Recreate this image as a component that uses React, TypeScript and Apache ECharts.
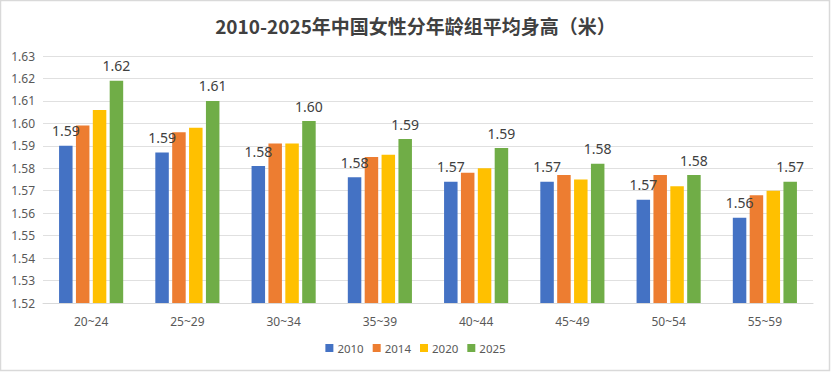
import React, { useEffect, useRef } from "react";
import * as echarts from "echarts";

const categories = ["20~24", "25~29", "30~34", "35~39", "40~44", "45~49", "50~54", "55~59"];
const years = ["2010", "2014", "2020", "2025"];
const s2010 = [1.590, 1.587, 1.581, 1.576, 1.574, 1.574, 1.566, 1.558];
const s2014 = [1.599, 1.596, 1.591, 1.585, 1.578, 1.577, 1.577, 1.568];
const s2020 = [1.606, 1.598, 1.591, 1.586, 1.580, 1.575, 1.572, 1.570];
const s2025 = [1.619, 1.610, 1.601, 1.593, 1.589, 1.582, 1.577, 1.574];
const colors = ["#4472C4", "#ED7D31", "#FFC000", "#70AD47"];
const labeled = [true, false, false, true];

export default function App() {
  const ref = useRef<HTMLDivElement>(null);
  useEffect(() => {
    if (!ref.current) return;
    const chart = echarts.init(ref.current, null, { renderer: "svg" });
    const all = [s2010, s2014, s2020, s2025];
    chart.setOption({
      animation: false,
      backgroundColor: "#ffffff",
      title: {
        text: "2010-2025年中国女性分年龄组平均身高（米）",
        left: "center",
        top: 11,
        textStyle: { fontSize: 19, fontWeight: "bold", color: "#404040", fontFamily: "'Noto Sans CJK SC', sans-serif" },
      },
      legend: {
        bottom: 13,
        left: "center",
        itemWidth: 8,
        itemHeight: 8,
        itemGap: 9,
        icon: "rect",
        textStyle: { fontSize: 11.5, color: "#595959", fontFamily: "'Noto Sans', sans-serif", padding: [0, 0, 0, -1] },
        data: years,
      },
      grid: { left: 43, right: 18, top: 56, bottom: 69, containLabel: false },
      xAxis: {
        type: "category",
        data: categories,
        axisTick: { show: false },
        axisLine: { lineStyle: { color: "#d9d9d9" } },
        axisLabel: { fontSize: 12, color: "#595959", margin: 12, fontFamily: "'Noto Sans', sans-serif" },
      },
      yAxis: {
        type: "value",
        min: 1.52,
        max: 1.63,
        interval: 0.01,
        axisLine: { show: false },
        axisTick: { show: false },
        splitLine: { lineStyle: { color: "#e0e0e0" } },
        axisLabel: {
          fontSize: 12,
          color: "#595959",
          margin: 8,
          fontFamily: "'Noto Sans', sans-serif",
          formatter: (v: number) => v.toFixed(2),
        },
      },
      graphic: [
        {
          type: "rect",
          shape: { x: 0.5, y: 0.5, width: 829, height: 370 },
          style: { fill: "none", stroke: "#d9d9d9", lineWidth: 1.5 },
          silent: true,
        },
      ],
      series: years.map((y, i) => ({
        name: y,
        type: "bar",
        data: all[i],
        barWidth: 13.5,
        barGap: "25%",
        itemStyle: { color: colors[i] },
        label: {
          show: labeled[i],
          position: "top",
          distance: 8,
          fontSize: 14,
          color: "#404040",
          fontFamily: "'Noto Sans', sans-serif",
          formatter: (p: any) => Number(p.value).toFixed(2),
        },
      })),
    });
    return () => chart.dispose();
  }, []);
  return <div ref={ref} style={{ position: "fixed", left: 0, top: 0, width: 831, height: 372 }} />;
}
